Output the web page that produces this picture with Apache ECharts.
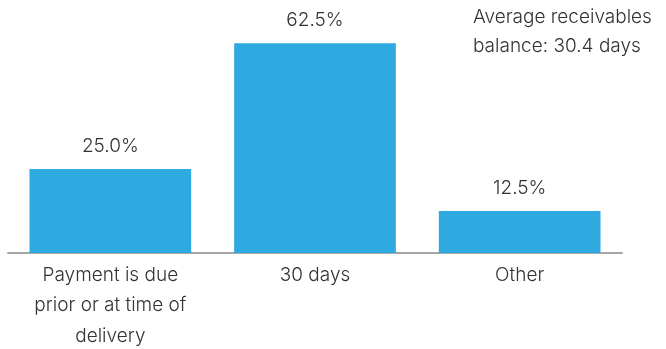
<!DOCTYPE html>
<html>
<head>
<meta charset="utf-8">
<script src="https://cdn.jsdelivr.net/npm/echarts@6/dist/echarts.min.js"></script>
<style>html,body{margin:0;padding:0;background:#fff}#c{width:666px;height:349px}</style>
</head>
<body>
<div id="c"></div>
<script>
var categories = ["Payment is due\nprior or at time of\ndelivery", "30 days", "Other"];
var shares = [25.0, 62.5, 12.5];
var note = "Average receivables\nbalance: 30.4 days";

var FONT = "Inter, 'Open Sans', sans-serif";
var chart = echarts.init(document.getElementById('c'), null, {renderer: 'canvas'});
chart.setOption({
  animation: false,
  grid: {left: 8, right: 44, top: 18, bottom: 96, containLabel: false, outerBoundsMode: 'none'},
  xAxis: {
    type: 'category',
    data: categories,
    axisLine: {lineStyle: {color: '#a6a6a6', width: 2}},
    axisTick: {show: false},
    axisLabel: {color: '#333', fontSize: 19, fontFamily: FONT, fontWeight: 300, lineHeight: 30.5, margin: 7, interval: 0}
  },
  yAxis: {type: 'value', min: 0, max: 70, show: false, splitLine: {show: false}},
  series: [{
    type: 'bar',
    data: shares,
    barCategoryGap: '21%',
    itemStyle: {color: '#2eaae1'},
    label: {
      show: true, position: 'top', distance: 13,
      color: '#333', fontSize: 19, fontFamily: FONT, fontWeight: 300,
      formatter: function (p) { return p.value.toFixed(1) + '%'; }
    }
  }],
  graphic: [{
    type: 'text', left: 473, top: 3,
    style: {text: note, fill: '#333', fontSize: 19, fontFamily: FONT, fontWeight: 300, lineHeight: 29}
  }]
});
</script>
</body>
</html>
